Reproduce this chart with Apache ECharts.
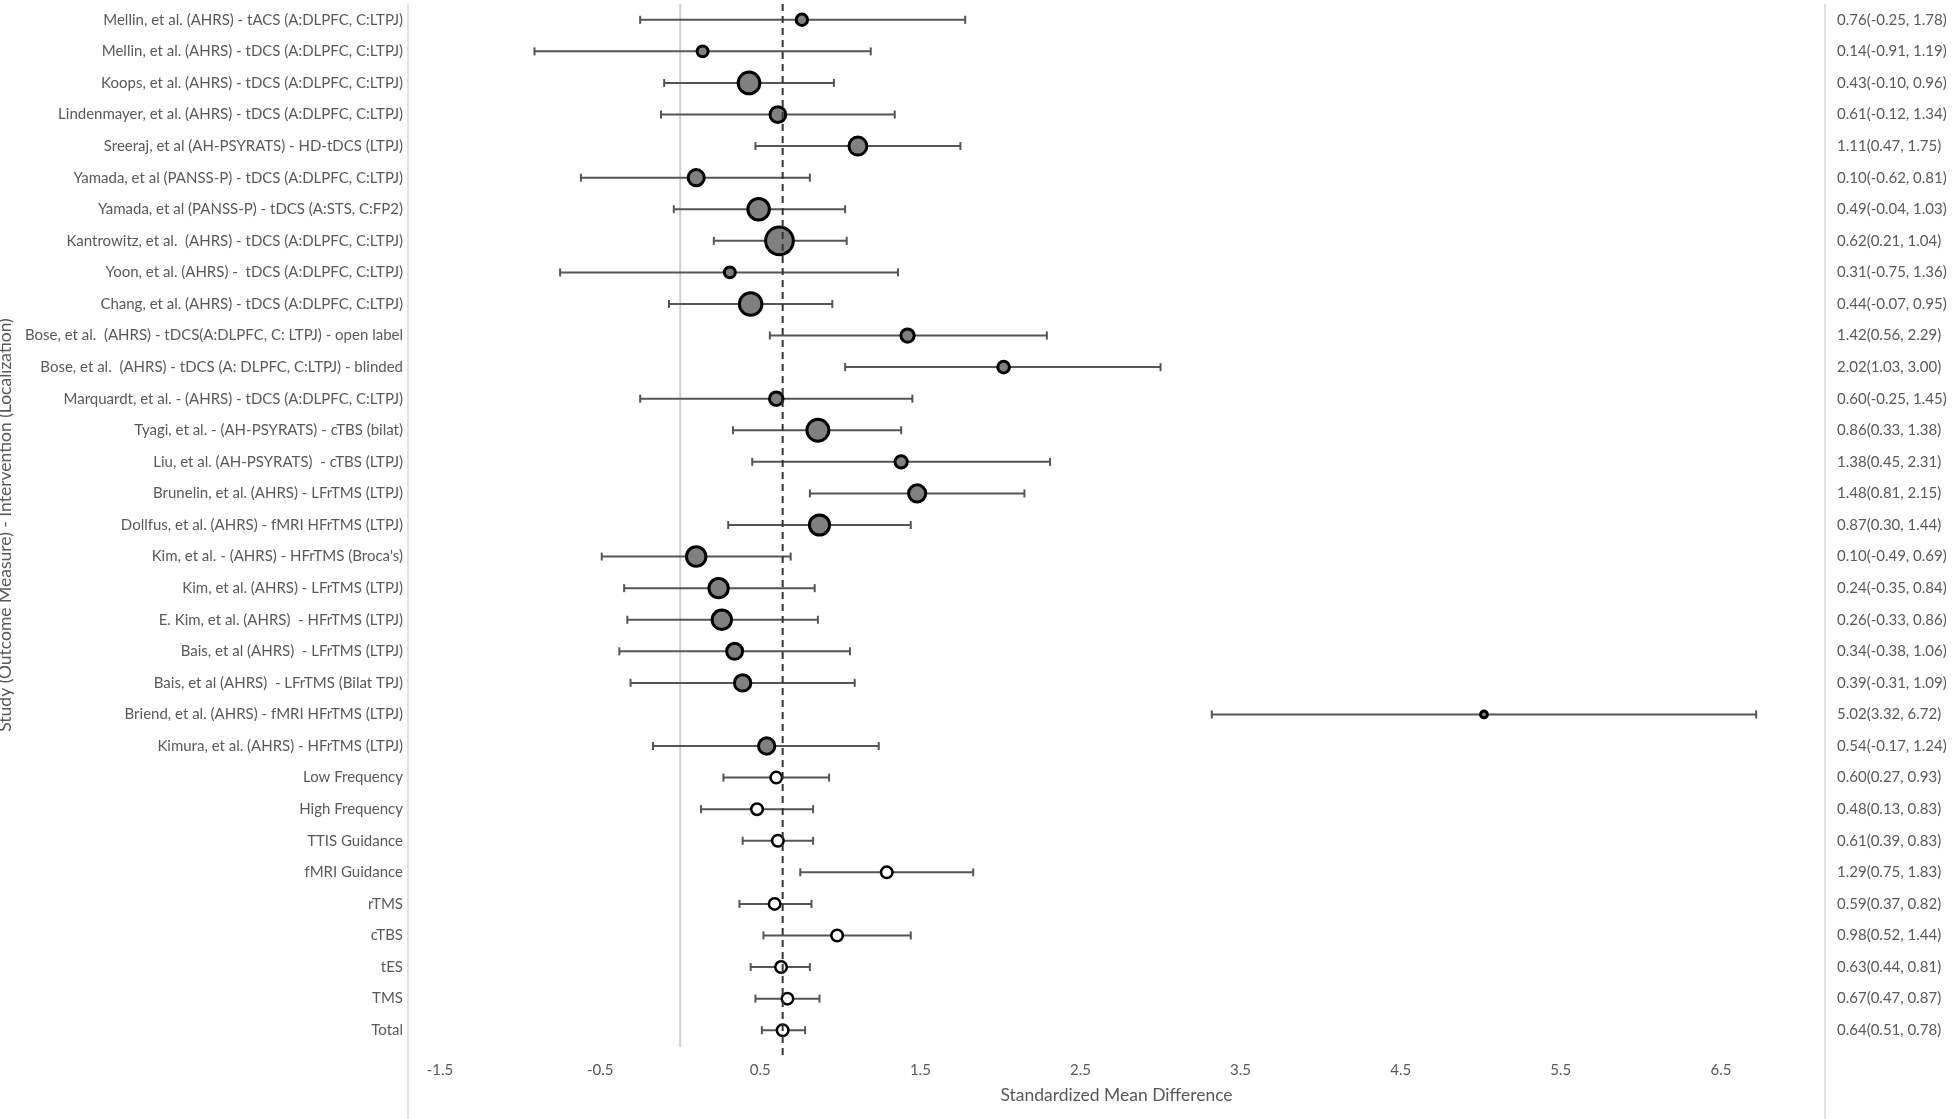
<!DOCTYPE html>
<html lang="en">
<head>
    <meta charset="UTF-8">
    <title>Forest plot</title>
    <script src="https://cdn.jsdelivr.net/npm/echarts@6/dist/echarts.min.js"></script>
    <style>html, body { margin: 0; padding: 0; background: #fff; }</style>
</head>
<body>
<div id="chart" style="width: 1955px; height: 1119px;"></div>
<script>
    // rows, top to bottom
    var studies = [
        'Mellin, et al. (AHRS) - tACS (A:DLPFC, C:LTPJ)',
        'Mellin, et al. (AHRS) - tDCS (A:DLPFC, C:LTPJ)',
        'Koops, et al. (AHRS) - tDCS (A:DLPFC, C:LTPJ)',
        'Lindenmayer, et al. (AHRS) - tDCS (A:DLPFC, C:LTPJ)',
        'Sreeraj, et al (AH-PSYRATS) - HD-tDCS (LTPJ)',
        'Yamada, et al (PANSS-P) - tDCS (A:DLPFC, C:LTPJ)',
        'Yamada, et al (PANSS-P) - tDCS (A:STS, C:FP2)',
        'Kantrowitz, et al.  (AHRS) - tDCS (A:DLPFC, C:LTPJ)',
        'Yoon, et al. (AHRS) -  tDCS (A:DLPFC, C:LTPJ)',
        'Chang, et al. (AHRS) - tDCS (A:DLPFC, C:LTPJ)',
        'Bose, et al.  (AHRS) - tDCS(A:DLPFC, C: LTPJ) - open label',
        'Bose, et al.  (AHRS) - tDCS (A: DLPFC, C:LTPJ) - blinded',
        'Marquardt, et al. - (AHRS) - tDCS (A:DLPFC, C:LTPJ)',
        'Tyagi, et al. - (AH-PSYRATS) - cTBS (bilat)',
        'Liu, et al. (AH-PSYRATS)  - cTBS (LTPJ)',
        'Brunelin, et al. (AHRS) - LFrTMS (LTPJ)',
        'Dollfus, et al. (AHRS) - fMRI HFrTMS (LTPJ)',
        "Kim, et al. - (AHRS) - HFrTMS (Broca's)",
        'Kim, et al. (AHRS) - LFrTMS (LTPJ)',
        'E. Kim, et al. (AHRS)  - HFrTMS (LTPJ)',
        'Bais, et al (AHRS)  - LFrTMS (LTPJ)',
        'Bais, et al (AHRS)  - LFrTMS (Bilat TPJ)',
        'Briend, et al. (AHRS) - fMRI HFrTMS (LTPJ)',
        'Kimura, et al. (AHRS) - HFrTMS (LTPJ)',
        'Low Frequency',
        'High Frequency',
        'TTIS Guidance',
        'fMRI Guidance',
        'rTMS',
        'cTBS',
        'tES',
        'TMS',
        'Total'
    ];
    var smd    = [0.76, 0.14, 0.43, 0.61, 1.11, 0.10, 0.49, 0.62, 0.31, 0.44, 1.42, 2.02, 0.60, 0.86, 1.38, 1.48, 0.87, 0.10, 0.24, 0.26, 0.34, 0.39, 5.02, 0.54,
                  0.60, 0.48, 0.61, 1.29, 0.59, 0.98, 0.63, 0.67, 0.64];
    var ciLow  = [-0.25, -0.91, -0.10, -0.12, 0.47, -0.62, -0.04, 0.21, -0.75, -0.07, 0.56, 1.03, -0.25, 0.33, 0.45, 0.81, 0.30, -0.49, -0.35, -0.33, -0.38, -0.31, 3.32, -0.17,
                  0.27, 0.13, 0.39, 0.75, 0.37, 0.52, 0.44, 0.47, 0.51];
    var ciHigh = [1.78, 1.19, 0.96, 1.34, 1.75, 0.81, 1.03, 1.04, 1.36, 0.95, 2.29, 3.00, 1.45, 1.38, 2.31, 2.15, 1.44, 0.69, 0.84, 0.86, 1.06, 1.09, 6.72, 1.24,
                  0.93, 0.83, 0.83, 1.83, 0.82, 1.44, 0.81, 0.87, 0.78];
    var firstPooled = 24;   // rows from here on are pooled estimates
    var xTicks = [-1.5, -0.5, 0.5, 1.5, 2.5, 3.5, 4.5, 5.5, 6.5];

    var textColor = '#595959';
    var font = 'Lato';

    var whiskers = [], studyPts = [], pooledPts = [], ciText = [], rows = [];
    for (var i = 0; i < studies.length; i++) {
        whiskers.push([ciLow[i], ciHigh[i], i]);
        if (i < firstPooled) studyPts.push([smd[i], i, ciHigh[i] - ciLow[i]]);
        else pooledPts.push([smd[i], i]);
        ciText.push(smd[i].toFixed(2) + '(' + ciLow[i].toFixed(2) + ', ' + ciHigh[i].toFixed(2) + ')');
        rows.push([smd[i], i]);
    }
    var last = studies.length - 1;
    var total = smd[last];

    function renderWhisker(params, api) {
        var y = api.value(2);
        var a = api.coord([api.value(0), y]);
        var b = api.coord([api.value(1), y]);
        var h = 4;
        var st = { stroke: '#555555', lineWidth: 2 };
        return {
            type: 'group',
            children: [
                { type: 'line', shape: { x1: a[0], y1: a[1], x2: b[0], y2: b[1] }, style: st },
                { type: 'line', shape: { x1: a[0], y1: a[1] - h, x2: a[0], y2: a[1] + h }, style: st },
                { type: 'line', shape: { x1: b[0], y1: b[1] - h, x2: b[0], y2: b[1] + h }, style: st }
            ]
        };
    }

    // vertical reference line at x = value
    function refLine(stroke, dash, extra) {
        return function (params, api) {
            var cs = params.coordSys;
            var x = api.coord([api.value(0), 0])[0];
            return {
                type: 'line',
                shape: { x1: x, y1: cs.y, x2: x, y2: cs.y + cs.height + extra },
                style: { stroke: stroke, lineWidth: 2, lineDash: dash }
            };
        };
    }

    // effect + CI text right of the plot
    function renderCiText(params, api) {
        var cs = params.coordSys;
        var y = api.coord([0, api.value(1)])[1];
        return {
            type: 'text',
            x: cs.x + cs.width + 12,
            y: y,
            style: {
                text: ciText[params.dataIndex],
                fill: textColor,
                font: '15px ' + font,
                verticalAlign: 'middle',
                align: 'left'
            }
        };
    }

    var myChart = echarts.init(document.getElementById('chart'));
    var option = {
        animation: false,
        textStyle: { fontFamily: font },
        grid: { left: 408, right: 130, top: 4, bottom: 73, outerBoundsMode: 'none' },
        graphic: [
            { type: 'line', shape: { x1: 408, y1: 4, x2: 408, y2: 1119 }, style: { stroke: '#d9d9d9', lineWidth: 1.5 }, silent: true },
            { type: 'line', shape: { x1: 1825, y1: 4, x2: 1825, y2: 1119 }, style: { stroke: '#d9d9d9', lineWidth: 1.5 }, silent: true }
        ],
        xAxis: {
            type: 'value',
            min: -1.7,
            max: 7.15,
            name: 'Standardized Mean Difference',
            nameLocation: 'middle',
            nameGap: 40,
            nameTextStyle: { color: textColor, fontSize: 17.5, fontFamily: font },
            axisLine: { show: false },
            axisTick: { show: false },
            splitLine: { show: false },
            axisLabel: { customValues: xTicks, color: textColor, fontSize: 15, margin: 17, fontFamily: font }
        },
        yAxis: {
            type: 'category',
            data: studies,
            inverse: true,
            name: 'Study (Outcome Measure) - Intervention (Localization)',
            nameLocation: 'middle',
            nameGap: 378,
            nameTextStyle: { color: textColor, fontSize: 17.5, fontFamily: font },
            axisLine: { show: false },
            axisTick: { show: false },
            axisLabel: { color: textColor, fontSize: 15, margin: 5, fontFamily: font, interval: 0 }
        },
        series: [
            {
                type: 'custom',
                name: 'zero',
                renderItem: refLine('#d0d0d0', null, 1),
                encode: { x: 0, y: 1 },
                data: [[0, 0]],
                silent: true,
                z: 1
            },
            {
                type: 'custom',
                name: 'CI',
                renderItem: renderWhisker,
                encode: { x: [0, 1], y: 2 },
                data: whiskers,
                z: 2
            },
            {
                type: 'scatter',
                name: 'Studies',
                data: studyPts,
                symbol: 'circle',
                symbolSize: function (v) { return 23 / v[2]; },
                itemStyle: { color: '#808080', borderColor: '#000', borderWidth: 3, opacity: 1 },
                z: 3
            },
            {
                type: 'scatter',
                name: 'Pooled',
                data: pooledPts,
                symbol: 'circle',
                symbolSize: 11.5,
                itemStyle: { color: '#fff', borderColor: '#000', borderWidth: 2.5, opacity: 1 },
                z: 3
            },
            {
                type: 'custom',
                name: 'overall',
                renderItem: refLine('#333333', [7, 5], 10),
                encode: { x: 0, y: 1 },
                data: [[total, last]],
                silent: true,
                z: 5
            },
            {
                type: 'custom',
                name: 'ciText',
                renderItem: renderCiText,
                encode: { x: 0, y: 1 },
                data: rows,
                silent: true,
                clip: false,
                z: 5
            }
        ]
    };
    myChart.setOption(option);
</script>
</body>
</html>
